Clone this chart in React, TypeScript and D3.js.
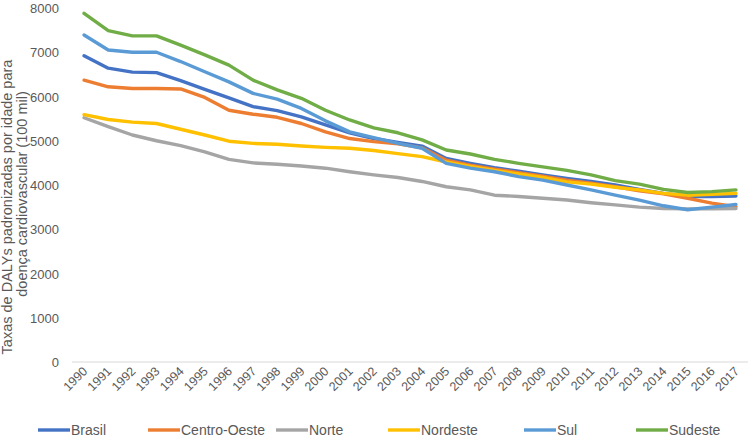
import React from "react";
import * as d3 from "d3";

const years = d3.range(1990, 2018).map(String);
const yTicks = [0, 1000, 2000, 3000, 4000, 5000, 6000, 7000, 8000];

const brasil = [6920, 6640, 6550, 6540, 6360, 6160, 5970, 5770, 5680, 5540, 5360, 5180, 5050, 4960, 4880, 4600, 4490, 4390, 4310, 4230, 4150, 4080, 4000, 3900, 3810, 3740, 3740, 3750];
const centroOeste = [6370, 6220, 6180, 6180, 6170, 5980, 5690, 5600, 5530, 5390, 5200, 5050, 4980, 4930, 4840, 4560, 4450, 4360, 4280, 4200, 4110, 4040, 3960, 3870, 3800, 3700, 3590, 3510];
const norte = [5520, 5320, 5130, 5000, 4890, 4750, 4580, 4500, 4470, 4430, 4380, 4300, 4230, 4170, 4080, 3960, 3890, 3770, 3740, 3700, 3660, 3600, 3550, 3500, 3470, 3460, 3460, 3470];
const nordeste = [5590, 5480, 5420, 5390, 5260, 5130, 4990, 4940, 4920, 4880, 4850, 4830, 4780, 4710, 4640, 4520, 4420, 4330, 4250, 4170, 4070, 4020, 3950, 3890, 3810, 3770, 3790, 3810];
const sul = [7390, 7050, 7000, 7000, 6790, 6560, 6330, 6070, 5940, 5730, 5450, 5200, 5070, 4940, 4830, 4490, 4380, 4300, 4190, 4110, 4000, 3890, 3770, 3660, 3530, 3440, 3500, 3560];
const sudeste = [7880, 7490, 7370, 7370, 7160, 6940, 6710, 6370, 6150, 5960, 5690, 5470, 5290, 5180, 5020, 4790, 4700, 4580, 4490, 4410, 4330, 4230, 4100, 4020, 3900, 3830, 3850, 3890];

const seriesNames = ["Brasil", "Centro-Oeste", "Norte", "Nordeste", "Sul", "Sudeste"];
const seriesValues = [brasil, centroOeste, norte, nordeste, sul, sudeste];
const colors = ["#4472C4", "#ED7D31", "#A5A5A5", "#FFC000", "#5B9BD5", "#70AD47"];
const legendX = [38, 148, 276, 388, 524, 636];

const W = 750;
const H = 438;
const FONT = "'Liberation Sans', Arial, sans-serif";
const TXT = "#595959";

export default function App() {
  const x = d3.scaleBand<string>().domain(years).range([72, 748]);
  const y = d3.scaleLinear().domain([0, 8000]).range([362, 8]);
  const cx = (yr: string) => (x(yr) as number) + x.bandwidth() / 2;
  const line = d3
    .line<number>()
    .x((_, i) => cx(years[i]))
    .y((d) => y(d));

  return (
    <svg
      width={W}
      height={H}
      style={{ position: "absolute", left: 0, top: 0, background: "#fff" }}
      fontFamily={FONT}
    >
      <rect width={W} height={H} fill="#fff" />
      {yTicks.map((t) => (
        <text key={t} x={59} y={y(t) + 5} textAnchor="end" fontSize={13} fill={TXT}>
          {t}
        </text>
      ))}
      <line x1={72} x2={748} y1={y(0)} y2={y(0)} stroke="#D9D9D9" strokeWidth={1} />
      {years.map((yr) => (
        <text
          key={yr}
          transform={`translate(${cx(yr) + 4},${372}) rotate(-45)`}
          textAnchor="end"
          fontSize={12.5}
          fill={TXT}
        >
          {yr}
        </text>
      ))}
      <text transform={`translate(12,207) rotate(-90)`} textAnchor="middle" fontSize={14.5} fill={TXT}>
        Taxas de DALYs padronizadas por idade para
      </text>
      <text transform={`translate(26.5,194) rotate(-90)`} textAnchor="middle" fontSize={14.5} fill={TXT}>
        doença cardiovascular (100 mil)
      </text>
      {seriesValues.map((vals, i) => (
        <path
          key={seriesNames[i]}
          d={line(vals) || ""}
          fill="none"
          stroke={colors[i]}
          strokeWidth={3.4}
          strokeLinejoin="round"
          strokeLinecap="round"
        />
      ))}
      {seriesNames.map((name, i) => (
        <g key={name}>
          <line x1={legendX[i]} x2={legendX[i] + 32} y1={430} y2={430} stroke={colors[i]} strokeWidth={3.4} />
          <text x={legendX[i] + 33} y={435} fontSize={14} fill={TXT}>
            {name}
          </text>
        </g>
      ))}
    </svg>
  );
}
